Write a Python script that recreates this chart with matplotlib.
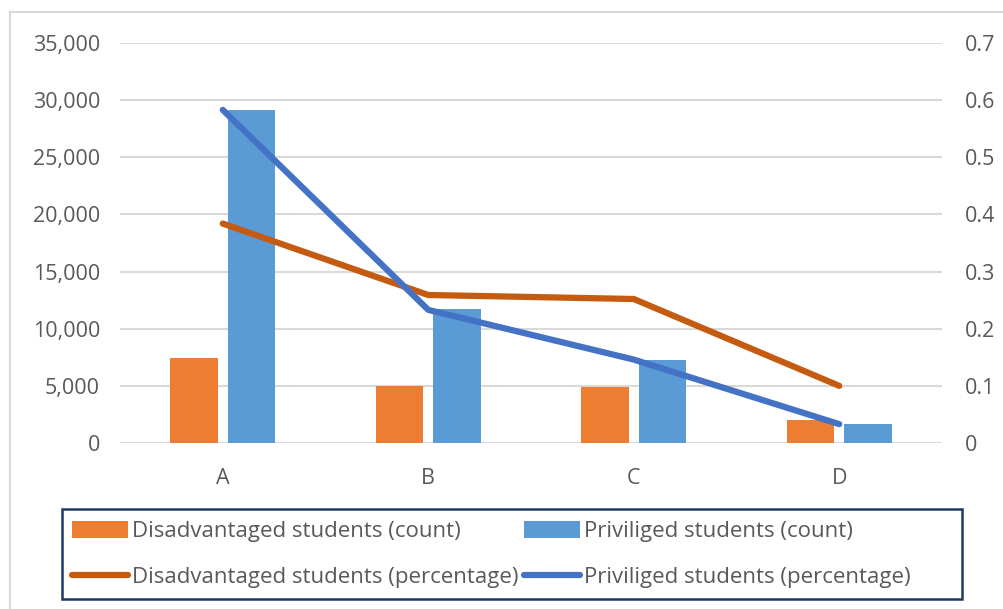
import matplotlib
matplotlib.use("Agg")
import matplotlib.pyplot as plt
from matplotlib.patches import Patch, Rectangle
from matplotlib.lines import Line2D
from matplotlib.ticker import FuncFormatter
import numpy as np

categories = ["A", "B", "C", "D"]
disadv_count = [7400, 5000, 4900, 2000]
priv_count = [29100, 11700, 7300, 1700]
disadv_pct = [0.384, 0.259, 0.252, 0.100]
priv_pct = [0.583, 0.233, 0.146, 0.033]

labels = ["Disadvantaged students (count)", "Priviliged students (count)",
          "Disadvantaged students (percentage)", "Priviliged students (percentage)"]

c_bar_or = "#ED7D31"
c_bar_bl = "#5B9BD5"
c_ln_or = "#C55A11"
c_ln_bl = "#4472C4"
c_txt = "#595959"
c_grid = "#D9D9D9"

FONT = ["Open Sans", "DejaVu Sans"]
plt.rcParams["font.family"] = FONT

W, H = 1004, 609
fig = plt.figure(figsize=(W / 100, H / 100), dpi=100)

def fx(px):
    return px / W

def fy(py):
    return 1 - py / H

left, right, top, bottom = 120, 942, 43, 443
ax = fig.add_axes([fx(left), fy(bottom), fx(right - left), (bottom - top) / H])
ax2 = ax.twinx()

x = np.arange(len(categories))
bw = 0.23
off = 0.14
ax.bar(x - off, disadv_count, bw, color=c_bar_or, zorder=2)
ax.bar(x + off, priv_count, bw, color=c_bar_bl, zorder=2)

ax2.plot(x, disadv_pct, color=c_ln_or, lw=4.5, solid_capstyle="round", solid_joinstyle="round")
ax2.plot(x, priv_pct, color=c_ln_bl, lw=4.5, solid_capstyle="round", solid_joinstyle="round")

ax.set_xlim(-0.5, 3.5)
ax.set_ylim(0, 35000)
ax2.set_ylim(0, 0.7)
ax.set_yticks(np.arange(0, 35001, 5000))
ax2.set_yticks(np.arange(0, 0.71, 0.1))
ax.yaxis.set_major_formatter(FuncFormatter(lambda v, p: f"{int(v):,}"))
ax2.yaxis.set_major_formatter(FuncFormatter(lambda v, p: "0" if v == 0 else f"{v:.1f}"))
ax.set_xticks(x)
ax.set_xticklabels(categories)

ax.grid(axis="y", color=c_grid, lw=1.5, zorder=0)
ax.set_axisbelow(True)
for a in (ax, ax2):
    for s in a.spines.values():
        s.set_visible(False)
    a.tick_params(length=0, colors=c_txt, labelsize=15.5)
ax.tick_params(axis="y", pad=14.4)
ax2.tick_params(axis="y", pad=16.5)
ax.tick_params(axis="x", pad=18)

# outer chart border
fig.add_artist(Line2D([fx(10), 1], [fy(12), fy(12)], color=c_grid, lw=1.5))
fig.add_artist(Line2D([fx(10), fx(10)], [fy(12), 0], color=c_grid, lw=1.5))

# legend (row-wise order: row 1 counts, row 2 percentages)
handles = [Patch(facecolor=c_bar_or), Patch(facecolor=c_bar_bl),
           Line2D([], [], color=c_ln_or, lw=4.5, solid_capstyle="round"),
           Line2D([], [], color=c_ln_bl, lw=4.5, solid_capstyle="round")]
order = [0, 2, 1, 3]
leg = fig.legend([handles[i] for i in order], [labels[i] for i in order],
                 ncol=2, loc="upper left",
                 bbox_to_anchor=(fx(72), fy(521)), frameon=False,
                 fontsize=16, labelcolor=c_txt, handlelength=2.5, handleheight=0.8,
                 handletextpad=0.18, columnspacing=0.27, labelspacing=1.1,
                 borderpad=0.0, borderaxespad=0.0)
fig.add_artist(Rectangle((fx(62), fy(599)), fx(962 - 62), (599 - 509) / H,
                         fill=False, edgecolor="#1F3864", lw=1.8, transform=fig.transFigure))

fig.savefig("out.png", dpi=100)
